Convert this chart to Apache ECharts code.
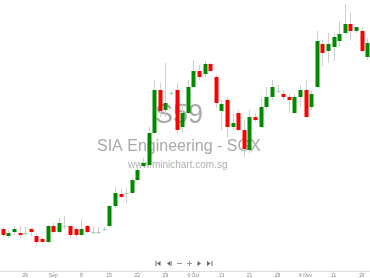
<!DOCTYPE html>
<html>
<head>
<meta charset="utf-8">
<script src="https://cdn.jsdelivr.net/npm/echarts@6/dist/echarts.min.js"></script>
<style>
html,body{margin:0;padding:0;background:#fff;}
#chart{width:370px;height:278px;}
</style>
</head>
<body>
<div id="chart"></div>
<script>
// Trading days (category axis)
var categories = [
 '2025-08-19','2025-08-20','2025-08-21','2025-08-22','2025-08-25','2025-08-26','2025-08-27','2025-08-28','2025-08-29',
 '2025-09-01','2025-09-02','2025-09-03','2025-09-04','2025-09-05',
 '2025-09-08','2025-09-09','2025-09-10','2025-09-11','2025-09-12',
 '2025-09-15','2025-09-16','2025-09-17','2025-09-18','2025-09-19',
 '2025-09-22','2025-09-23','2025-09-24','2025-09-25','2025-09-26',
 '2025-09-29','2025-09-30','2025-10-01','2025-10-02','2025-10-03',
 '2025-10-06','2025-10-07','2025-10-08','2025-10-09','2025-10-10',
 '2025-10-13','2025-10-14','2025-10-15','2025-10-16','2025-10-17',
 '2025-10-21','2025-10-22','2025-10-23','2025-10-24','2025-10-27',
 '2025-10-28','2025-10-29','2025-10-30','2025-10-31','2025-11-03',
 '2025-11-04','2025-11-05','2025-11-06','2025-11-07','2025-11-10',
 '2025-11-11','2025-11-12','2025-11-13','2025-11-14','2025-11-17',
 '2025-11-18','2025-11-19'
];
var openP = [2.405,2.37,2.39,2.385,2.385,2.405,2.37,2.355,2.34,2.42,2.39,2.42,2.42,2.405,2.375,2.42,2.39,2.39,2.405,2.42,
 2.52,2.58,2.585,2.585,2.65,2.72,2.725,2.885,3.10,3.00,3.085,3.10,2.915,2.985,3.115,3.195,3.18,3.23,3.165,2.995,
 3.05,2.915,2.985,2.90,2.80,2.965,2.915,3.015,3.065,3.095,3.08,3.065,2.985,3.065,3.10,3.015,3.115,3.33,3.295,3.315,
 3.345,3.385,3.43,3.395,3.395,3.265];
var highP = [2.415,2.40,2.42,2.42,2.415,2.41,2.385,2.365,2.425,2.435,2.46,2.47,2.42,2.415,2.455,2.425,2.415,2.415,2.415,2.525,
 2.615,2.605,2.61,2.66,2.715,2.76,2.915,3.15,3.135,3.235,3.095,3.135,3.035,3.15,3.25,3.225,3.245,3.235,3.175,3.05,
 3.065,2.985,3.00,2.95,3.00,2.985,3.065,3.115,3.15,3.125,3.10,3.08,3.075,3.125,3.15,3.10,3.395,3.35,3.385,3.385,
 3.445,3.53,3.485,3.415,3.415,3.36];
var lowP = [2.365,2.36,2.375,2.36,2.37,2.37,2.33,2.335,2.335,2.385,2.385,2.405,2.36,2.365,2.37,2.385,2.38,2.38,2.395,2.415,
 2.51,2.56,2.535,2.58,2.645,2.715,2.72,2.88,2.965,2.965,3.075,2.885,2.885,2.975,3.11,3.15,3.165,3.19,3.01,2.90,
 2.865,2.90,2.89,2.765,2.785,2.94,2.91,3.00,3.05,3.085,3.05,2.985,2.98,3.015,2.96,3.00,3.11,3.22,3.235,3.245,
 3.315,3.375,3.35,3.385,3.29,3.25];
var closeP = [2.375,2.385,2.405,2.375,2.385,2.39,2.34,2.34,2.42,2.39,2.435,2.42,2.375,2.375,2.405,2.39,2.39,2.39,2.405,2.52,
 2.585,2.565,2.585,2.65,2.70,2.735,2.885,3.10,2.995,3.035,3.085,2.90,2.985,3.115,3.195,3.165,3.23,3.195,3.035,3.03,
 2.915,2.935,2.90,2.805,2.965,2.95,3.015,3.065,3.115,3.095,3.065,3.05,3.065,3.10,2.965,3.08,3.345,3.285,3.33,3.365,
 3.38,3.43,3.395,3.415,3.295,3.335];
var tickIndex = [4,9,14,19,24,29,34,39,44,49,54,59,64];
var tickLabels = ['26','Sep','8','15','22','29','6 Oct','13','21','28','4 Nov','11','18'];

var labelMap = {};
tickIndex.forEach(function(ix, k){ labelMap[ix] = tickLabels[k]; });

var seriesData = categories.map(function(d, i){
  return [i, openP[i], closeP[i], lowP[i], highP[i]];
});

var UP = '#008a00', DOWN = '#ff0000', WICK = '#cfcfcf', DOJI = '#9fd49f';

function renderCandle(params, api){
  var i = api.value(0), o = api.value(1), c = api.value(2), l = api.value(3), h = api.value(4);
  var pO = api.coord([i, o]), pC = api.coord([i, c]), pL = api.coord([i, l]), pH = api.coord([i, h]);
  var cx = Math.round(pO[0]);
  var children = [{
    type: 'line',
    shape: {x1: cx + 0.5, y1: pH[1], x2: cx + 0.5, y2: pL[1]},
    style: {stroke: WICK, lineWidth: 1}
  }];
  if (o === c) {
    children.push({
      type: 'line',
      shape: {x1: cx - 1.5, y1: Math.round(pO[1]) + 0.5, x2: cx + 2.5, y2: Math.round(pO[1]) + 0.5},
      style: {stroke: DOJI, lineWidth: 1}
    });
  } else {
    var top = Math.min(pO[1], pC[1]), bot = Math.max(pO[1], pC[1]);
    children.push({
      type: 'rect',
      shape: {x: cx - 1.5, y: top, width: 4, height: Math.max(1, bot - top)},
      style: {fill: c > o ? UP : DOWN}
    });
  }
  return {type: 'group', children: children};
}

var chart = echarts.init(document.getElementById('chart'), null, {renderer: 'canvas'});
var iconColor = '#666';
var iy = 263.5;
chart.setOption({
  animation: false,
  backgroundColor: '#ffffff',
  grid: {left: -1.4, right: -1.5, top: 0, bottom: 7, containLabel: false},
  xAxis: {
    type: 'category',
    data: categories,
    boundaryGap: true,
    axisLine: {show: true, lineStyle: {color: '#dddddd', width: 1}},
    axisTick: {
      show: true, length: 2, lineStyle: {color: '#cccccc'},
      alignWithLabel: true,
      interval: function(idx){ return labelMap[idx] !== undefined; }
    },
    axisLabel: {
      show: true, fontSize: 5, color: '#888', margin: 2,
      fontFamily: 'Liberation Sans, Arial, sans-serif',
      interval: function(idx){ return labelMap[idx] !== undefined; },
      formatter: function(v, idx){ return labelMap[idx] || ''; }
    },
    splitLine: {show: false}
  },
  yAxis: {
    type: 'value', min: 2.195, max: 3.55, show: false,
    splitLine: {show: false}
  },
  graphic: [
    {type: 'text', z: 0, left: 155, top: 102, style: {text: 'S59', fill: '#a8a8a8', font: '27px "Liberation Sans", Arial, sans-serif'}},
    {type: 'text', z: 0, left: 97, top: 139, style: {text: 'SIA Engineering - SGX', fill: '#a8a8a8', font: '16px "Liberation Sans", Arial, sans-serif'}},
    {type: 'text', z: 0, left: 128, top: 160, style: {text: 'www.minichart.com.sg', fill: '#b0b0b0', font: '10px "Liberation Sans", Arial, sans-serif'}},
    // navigation buttons
    {type: 'rect', shape: {x: 155.5, y: iy - 2.5, width: 1, height: 5}, style: {fill: iconColor}},
    {type: 'polygon', shape: {points: [[157, iy], [160.5, iy - 2.5], [160.5, iy + 2.5]]}, style: {fill: iconColor}},
    {type: 'polygon', shape: {points: [[167, iy], [170.5, iy - 2.5], [170.5, iy + 2.5]]}, style: {fill: iconColor}},
    {type: 'rect', shape: {x: 171, y: iy - 2.5, width: 0.8, height: 5}, style: {fill: '#999'}},
    {type: 'rect', shape: {x: 177, y: iy - 0.5, width: 5, height: 1}, style: {fill: '#999'}},
    {type: 'rect', shape: {x: 187, y: iy - 0.5, width: 5, height: 1}, style: {fill: '#999'}},
    {type: 'rect', shape: {x: 189, y: iy - 2.5, width: 1, height: 5}, style: {fill: '#999'}},
    {type: 'polygon', shape: {points: [[201, iy], [197.5, iy - 2.5], [197.5, iy + 2.5]]}, style: {fill: iconColor}},
    {type: 'polygon', shape: {points: [[210.5, iy], [207, iy - 2.5], [207, iy + 2.5]]}, style: {fill: iconColor}},
    {type: 'rect', shape: {x: 211.5, y: iy - 2.5, width: 1, height: 5}, style: {fill: iconColor}}
  ],
  series: [{
    type: 'custom',
    renderItem: renderCandle,
    data: seriesData,
    encode: {x: 0, y: [1, 2, 3, 4]},
    clip: false,
    z: 5
  }]
});
</script>
</body>
</html>
